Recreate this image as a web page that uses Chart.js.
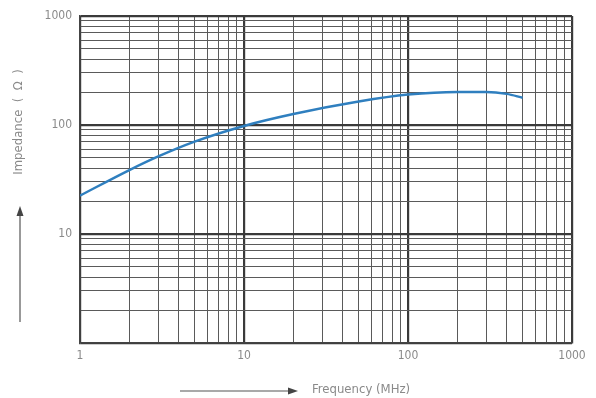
<!DOCTYPE html>
<html>
<head>
<meta charset="utf-8">
<script src="https://cdn.jsdelivr.net/npm/chart.js@4.4.1/dist/chart.umd.min.js"></script>
<style>
  html, body { margin: 0; padding: 0; background: #fff; }
  #wrap { width: 596px; height: 398px; }
</style>
</head>
<body>
<div id="wrap"><canvas id="chart" width="596" height="398"></canvas></div>
<script>
// impedance vs frequency
const frequency = [1, 2, 3, 5, 10, 20, 50, 100, 200, 300, 400, 500];
const impedance = [22.5, 38.6, 51.5, 70.4, 98, 126, 164, 190, 201, 201, 193, 178];

const xTicks = [1, 2, 3, 4, 5, 6, 7, 8, 9, 10, 20, 30, 40, 50, 60, 70, 80, 90, 100, 200, 300, 400, 500, 600, 700, 800, 900, 1000];
const yTicks = [1, 2, 3, 4, 5, 6, 7, 8, 9, 10, 20, 30, 40, 50, 60, 70, 80, 90, 100, 200, 300, 400, 500, 600, 700, 800, 900, 1000];
const xLabels = [1, 10, 100, 1000];
const yLabels = [10, 100, 1000];

const isDecade = v => Math.abs(Math.log10(v) - Math.round(Math.log10(v))) < 1e-9;

const textGrey = '#8a8a8a';
const fontFamily = '"DejaVu Sans Condensed", "Liberation Sans Narrow", sans-serif';

// arrows + axis titles drawn by hand like the printed sheet
const decor = {
    id: 'decor',
    afterDraw(chart) {
        const ctx = chart.ctx;
        ctx.save();
        ctx.strokeStyle = '#555';
        ctx.fillStyle = '#444';
        ctx.lineWidth = 1.2;

        // vertical arrow
        ctx.beginPath();
        ctx.moveTo(20, 322);
        ctx.lineTo(20, 214);
        ctx.stroke();
        ctx.beginPath();
        ctx.moveTo(20, 206);
        ctx.lineTo(16.5, 216);
        ctx.lineTo(23.5, 216);
        ctx.closePath();
        ctx.fill();

        // horizontal arrow
        ctx.beginPath();
        ctx.moveTo(180, 391);
        ctx.lineTo(290, 391);
        ctx.stroke();
        ctx.beginPath();
        ctx.moveTo(298, 391);
        ctx.lineTo(288, 387.5);
        ctx.lineTo(288, 394.5);
        ctx.closePath();
        ctx.fill();

        ctx.fillStyle = textGrey;
        ctx.font = '13px ' + fontFamily;
        ctx.textBaseline = 'middle';
        ctx.textAlign = 'left';
        ctx.fillText('Frequency (MHz)', 312, 390);

        ctx.translate(19, 122);
        ctx.rotate(-Math.PI / 2);
        ctx.textAlign = 'center';
        ctx.fillText('Impedance  (  Ω  )', 0, 0);
        ctx.restore();
    }
};

const gridColor = ctx => isDecade(ctx.tick.value) ? '#3a3a3a' : '#5a5a5a';
const gridWidth = ctx => isDecade(ctx.tick.value) ? 2.2 : 1;

new Chart(document.getElementById('chart'), {
    type: 'line',
    data: {
        datasets: [{
            data: frequency.map((f, i) => ({ x: f, y: impedance[i] })),
            borderColor: '#2f7fbf',
            borderWidth: 2.5,
            pointRadius: 0,
            cubicInterpolationMode: 'monotone',
            fill: false
        }]
    },
    options: {
        responsive: false,
        animation: false,
        layout: { padding: { top: 16, right: 24, left: 0, bottom: 0 } },
        plugins: { legend: { display: false }, tooltip: { enabled: false } },
        scales: {
            x: {
                type: 'logarithmic',
                min: 1,
                max: 1000,
                afterBuildTicks: s => { s.ticks = xTicks.map(v => ({ value: v })); },
                afterFit: s => { s.height = 55; },
                grid: { color: gridColor, lineWidth: gridWidth, drawTicks: false },
                border: { color: '#444', width: 1.5 },
                ticks: {
                    autoSkip: false,
                    maxRotation: 0,
                    padding: 6,
                    color: textGrey,
                    font: { family: fontFamily, size: 12 },
                    callback: v => xLabels.includes(v) ? String(v) : ''
                }
            },
            y: {
                type: 'logarithmic',
                min: 1,
                max: 1000,
                afterBuildTicks: s => { s.ticks = yTicks.map(v => ({ value: v })); },
                afterFit: s => { s.width = 80; },
                grid: { color: gridColor, lineWidth: gridWidth, drawTicks: false },
                border: { color: '#444', width: 1.5 },
                ticks: {
                    autoSkip: false,
                    padding: 8,
                    color: textGrey,
                    font: { family: fontFamily, size: 12 },
                    callback: v => yLabels.includes(v) ? String(v) : ''
                }
            }
        }
    },
    plugins: [decor]
});
</script>
</body>
</html>
